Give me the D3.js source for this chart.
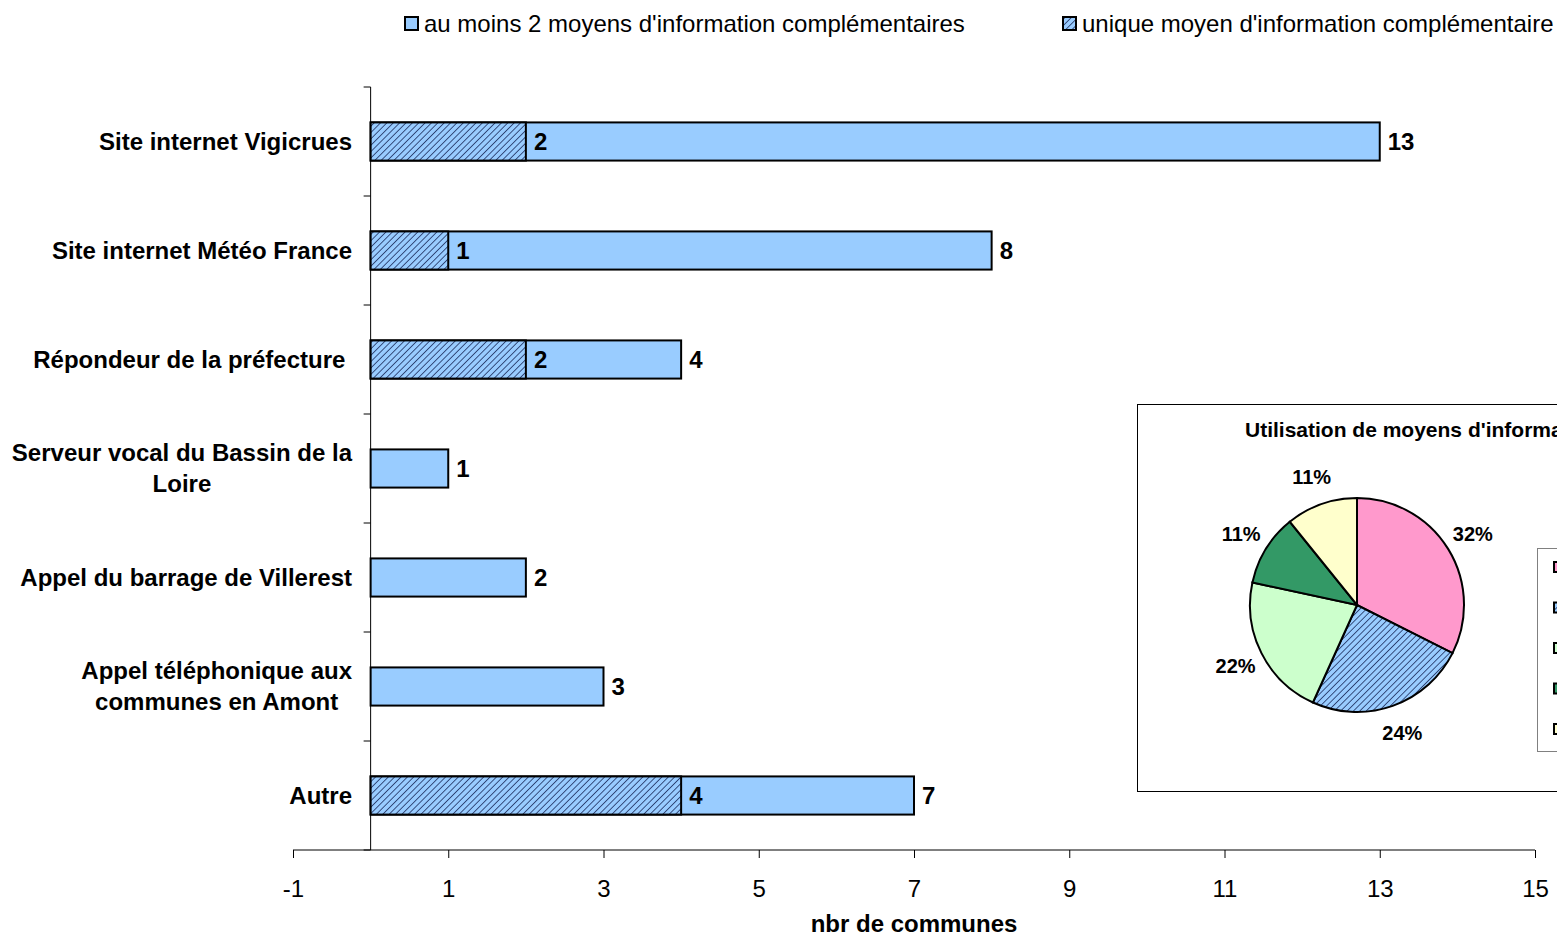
<!DOCTYPE html>
<html><head><meta charset="utf-8">
<script src="https://cdn.jsdelivr.net/npm/d3@7"></script>
<style>body{margin:0;background:#fff}svg{display:block;font-family:"Liberation Sans",Arial,sans-serif}</style>
</head><body><svg id="c" width="1557" height="936"></svg>
<script>
const categories = ["Site internet Vigicrues","Site internet Météo France","Répondeur de la préfecture ","Serveur vocal du Bassin de la|Loire","Appel du barrage de Villerest","Appel téléphonique aux|communes en Amont","Autre"];
const totalValues = [13,8,4,1,2,3,7];
const uniqueValues = [2,1,2,0,0,0,4];
const seriesNames = ["au moins 2 moyens d'information complémentaires","unique moyen d'information complémentaire"];
const xTicks = [-1,1,3,5,7,9,11,13,15];
const xTitle = "nbr de communes";
const pieTitle = "Utilisation de moyens d'information complémentaires";
const pieValues = [12,9,8,4,4];
const pieLabels = ["32%","24%","22%","11%","11%"];
const pieColors = ["#FF99CC","hatch","#CCFFCC","#339966","#FFFFCC"];

const svg = d3.select("#c");
const defs = svg.append("defs");
const pat = defs.append("pattern").attr("id","hatch").attr("patternUnits","userSpaceOnUse")
  .attr("width",4.5).attr("height",4.5).attr("patternTransform","rotate(45)");
pat.append("rect").attr("width",4.5).attr("height",4.5).attr("fill","#99CCFF");
pat.append("line").attr("x1",0).attr("y1",0).attr("x2",0).attr("y2",4.5).attr("stroke","#1F3060").attr("stroke-width",1.6);
const fillOf = c => c==="hatch" ? "url(#hatch)" : c;

const x = d3.scaleLinear().domain([-1,15]).range([293,1535]);
const y = d3.scaleBand().domain(categories).range([87,850]).paddingInner(0.65).paddingOuter(0.325);
const yFull = d3.scaleBand().domain(categories).range([87,850]);

// Axes
svg.append("line").attr("x1",x(0)).attr("x2",x(0)).attr("y1",87).attr("y2",850).attr("stroke","#000");
svg.append("line").attr("x1",x(-1)).attr("x2",x(15)).attr("y1",850).attr("y2",850).attr("stroke","#000");
const bounds = categories.map(c=>yFull(c)).concat([850]);
svg.selectAll(".yt").data(bounds).enter().append("line").attr("x1",x(0)-7).attr("x2",x(0))
  .attr("y1",d=>d).attr("y2",d=>d).attr("stroke","#000");
const xa = svg.append("g").attr("transform","translate(0,850)")
  .call(d3.axisBottom(x).tickValues(xTicks).tickSize(8).tickFormat(d=>String(d)));
xa.select(".domain").remove();
xa.selectAll("line").attr("stroke","#000");
xa.selectAll("text").attr("font-size",24).attr("fill","#000").attr("y",47).attr("dy",null).attr("font-family","Liberation Sans, Arial, sans-serif");
svg.append("text").attr("x",x(7)).attr("y",932).attr("text-anchor","middle").attr("font-weight","bold").attr("font-size",24).text(xTitle);

// Category labels
categories.forEach(c=>{
  const lines = c.split("|");
  const g = svg.append("g");
  const ts = lines.map(l=>g.append("text").attr("font-weight","bold").attr("font-size",24).style("white-space","pre").attr("text-anchor","middle").text(l));
  const maxW = d3.max(ts,t=>t.node().getComputedTextLength());
  const cx = 352 - maxW/2;
  const cy = yFull(c)+yFull.bandwidth()/2;
  const lh = 31;
  ts.forEach((t,i)=>t.attr("x",cx).attr("y",cy + (i-(lines.length-1)/2)*lh).attr("dy","0.35em"));
});

// Bars
svg.selectAll(".tb").data(categories).enter().append("rect")
  .attr("x",x(0)).attr("y",d=>y(d)).attr("width",(d,i)=>x(totalValues[i])-x(0)).attr("height",y.bandwidth())
  .attr("fill","#99CCFF").attr("stroke","#000").attr("stroke-width",2);
svg.selectAll(".ub").data(categories.filter((d,i)=>uniqueValues[i]>0)).enter().append("rect")
  .attr("x",x(0)).attr("y",d=>y(d)).attr("width",d=>x(uniqueValues[categories.indexOf(d)])-x(0)).attr("height",y.bandwidth())
  .attr("fill","url(#hatch)").attr("stroke","#000").attr("stroke-width",2);
categories.forEach((c,i)=>{
  const cy = y(c)+y.bandwidth()/2;
  svg.append("text").attr("x",x(totalValues[i])+8).attr("y",cy).attr("dy","0.36em").attr("font-weight","bold").attr("font-size",24).text(totalValues[i]);
  if(uniqueValues[i]>0) svg.append("text").attr("x",x(uniqueValues[i])+8).attr("y",cy).attr("dy","0.36em").attr("font-weight","bold").attr("font-size",24).text(uniqueValues[i]);
});

// Top legend
const lg = [[404,"#99CCFF",seriesNames[0]],[1062,"url(#hatch)",seriesNames[1]]];
lg.forEach(([lx,f,t])=>{
  svg.append("rect").attr("x",lx+1).attr("y",17).attr("width",13).attr("height",13).attr("fill",f).attr("stroke","#000").attr("stroke-width",2);
  svg.append("text").attr("x",lx+20).attr("y",32).attr("font-size",24).text(t);
});

// Inset pie
const clip = defs.append("clipPath").attr("id","vp");
clip.append("rect").attr("x",0).attr("y",0).attr("width",1557).attr("height",936);
const ins = svg.append("g").attr("clip-path","url(#vp)");
ins.append("rect").attr("x",1137.5).attr("y",404.5).attr("width",500).attr("height",387).attr("fill","#fff").attr("stroke","#000");
ins.append("text").attr("x",1245).attr("y",437).attr("font-weight","bold").attr("font-size",21).text(pieTitle);
const pie = d3.pie().sort(null).value(d=>d)(pieValues);
const arc = d3.arc().innerRadius(0).outerRadius(107);
const pg = ins.append("g").attr("transform","translate(1357,605)");
pg.selectAll("path").data(pie).enter().append("path").attr("d",arc)
  .attr("fill",(d,i)=>fillOf(pieColors[i])).attr("stroke","#000").attr("stroke-width",2);
const lArc = d3.arc().innerRadius(136).outerRadius(136);
pg.selectAll(".pl").data(pie).enter().append("text").attr("transform",d=>`translate(${lArc.centroid(d)})`)
  .attr("text-anchor","middle").attr("dy","0.35em").attr("font-weight","bold").attr("font-size",20).text((d,i)=>pieLabels[i]);
ins.append("rect").attr("x",1537.5).attr("y",548.5).attr("width",100).attr("height",203).attr("fill","#fff").attr("stroke","#808080");
pieColors.forEach((c,i)=>{
  ins.append("rect").attr("x",1554).attr("y",562+i*40.5).attr("width",10).attr("height",10).attr("fill",fillOf(c)).attr("stroke","#000").attr("stroke-width",2);
});
</script></body></html>
